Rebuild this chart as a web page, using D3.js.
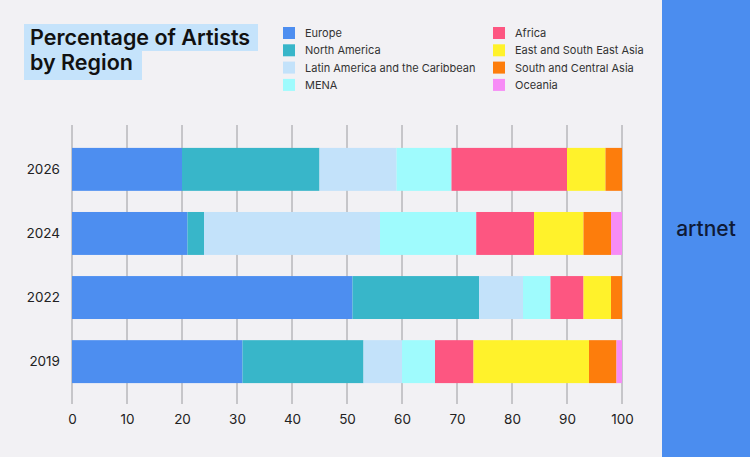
<!DOCTYPE html>
<html>
<head>
<meta charset="utf-8">
<script src="https://cdn.jsdelivr.net/npm/d3@7"></script>
<style>
  body { margin: 0; background: #f2f1f4; }
  svg { display: block; font-family: Inter, "Noto Sans", sans-serif; }
</style>
</head>
<body>
<svg width="750" height="457"></svg>
<script>
//data
const years = ['2026', '2024', '2022', '2019'];
const regions = ['Europe', 'North America', 'Latin America and the Caribbean', 'MENA',
  'Africa', 'East and South East Asia', 'South and Central Asia', 'Oceania'];
const colors = ['#4d8ef0', '#38b6c9', '#c3e2fa', '#9ffbfd', '#fd5681', '#fff22b', '#fd7d0c', '#f78cf6'];
const europe   = [20, 21, 51, 31];
const northAm  = [25, 3, 23, 22];
const latAm    = [14, 32, 8, 7];
const mena     = [10, 17.5, 5, 6];
const africa   = [21, 10.5, 6, 7];
const eastAsia = [7, 9, 5, 21];
const southAsia = [3, 5, 2, 5];
const oceania  = [0, 2, 0, 1];
const xTicks = [0, 10, 20, 30, 40, 50, 60, 70, 80, 90, 100];

const series = [europe, northAm, latAm, mena, africa, eastAsia, southAsia, oceania];
const table = years.map((y, i) => {
  const row = { year: y };
  regions.forEach((r, j) => row[r] = series[j][i]);
  return row;
});

const svg = d3.select('svg');

//background + side panel
svg.append('rect').attr('width', 750).attr('height', 457).attr('fill', '#f2f1f4');
svg.append('rect').attr('x', 662).attr('y', 0).attr('width', 88).attr('height', 457).attr('fill', '#4b8def');
svg.append('text').attr('x', 706).attr('y', 236).attr('text-anchor', 'middle')
  .attr('font-size', 21).attr('fill', '#0f1a36').attr('font-weight', 500).text('artnet');

//title with highlight boxes
svg.append('rect').attr('x', 24).attr('y', 24).attr('width', 234).attr('height', 27).attr('fill', '#c5e3fb');
svg.append('rect').attr('x', 24).attr('y', 50).attr('width', 118).attr('height', 30).attr('fill', '#c5e3fb');
const title = svg.append('text').attr('font-size', 21.5).attr('font-weight', 600).attr('fill', '#111');
title.append('tspan').attr('x', 30).attr('y', 45).text('Percentage of Artists');
title.append('tspan').attr('x', 30).attr('y', 70).text('by Region');

//legend
const leg = svg.append('g').selectAll('g').data(regions).join('g')
  .attr('transform', (d, i) => `translate(${i < 4 ? 283 : 493},${27 + (i % 4) * 17.3})`);
leg.append('rect').attr('width', 12).attr('height', 12).attr('fill', (d, i) => colors[i]);
leg.append('text').attr('x', 22).attr('y', 10).attr('font-size', 11).attr('fill', '#333').text(d => d);

//scales
const x = d3.scaleLinear().domain([0, 100]).range([72, 622]);
const y = d3.scaleBand().domain(years).range([137, 394]).paddingInner(0.33).paddingOuter(0.17);

//grid
svg.append('g').selectAll('line').data(xTicks).join('line')
  .attr('x1', d => x(d)).attr('x2', d => x(d))
  .attr('y1', 125).attr('y2', 404)
  .attr('stroke', '#9a9a9e').attr('stroke-width', 1);

//bars
const stack = d3.stack().keys(regions)(table);
svg.append('g').selectAll('g').data(stack).join('g')
  .attr('fill', (d, i) => colors[i])
  .selectAll('rect').data(d => d).join('rect')
  .attr('x', d => x(d[0]))
  .attr('width', d => x(d[1]) - x(d[0]))
  .attr('y', d => y(d.data.year))
  .attr('height', y.bandwidth());

//axes
const xAxis = svg.append('g').attr('transform', 'translate(0,404)')
  .call(d3.axisBottom(x).tickValues(xTicks).tickSize(0).tickPadding(10));
xAxis.select('.domain').remove();
xAxis.selectAll('text').attr('font-size', 13.5).attr('fill', '#222').attr('font-family', 'Inter, sans-serif');

const yAxis = svg.append('g').attr('transform', 'translate(60,0)')
  .call(d3.axisLeft(y).tickSize(0).tickPadding(0));
yAxis.select('.domain').remove();
yAxis.selectAll('text').attr('font-size', 13.5).attr('fill', '#222').attr('font-family', 'Inter, sans-serif');
</script>
</body>
</html>
